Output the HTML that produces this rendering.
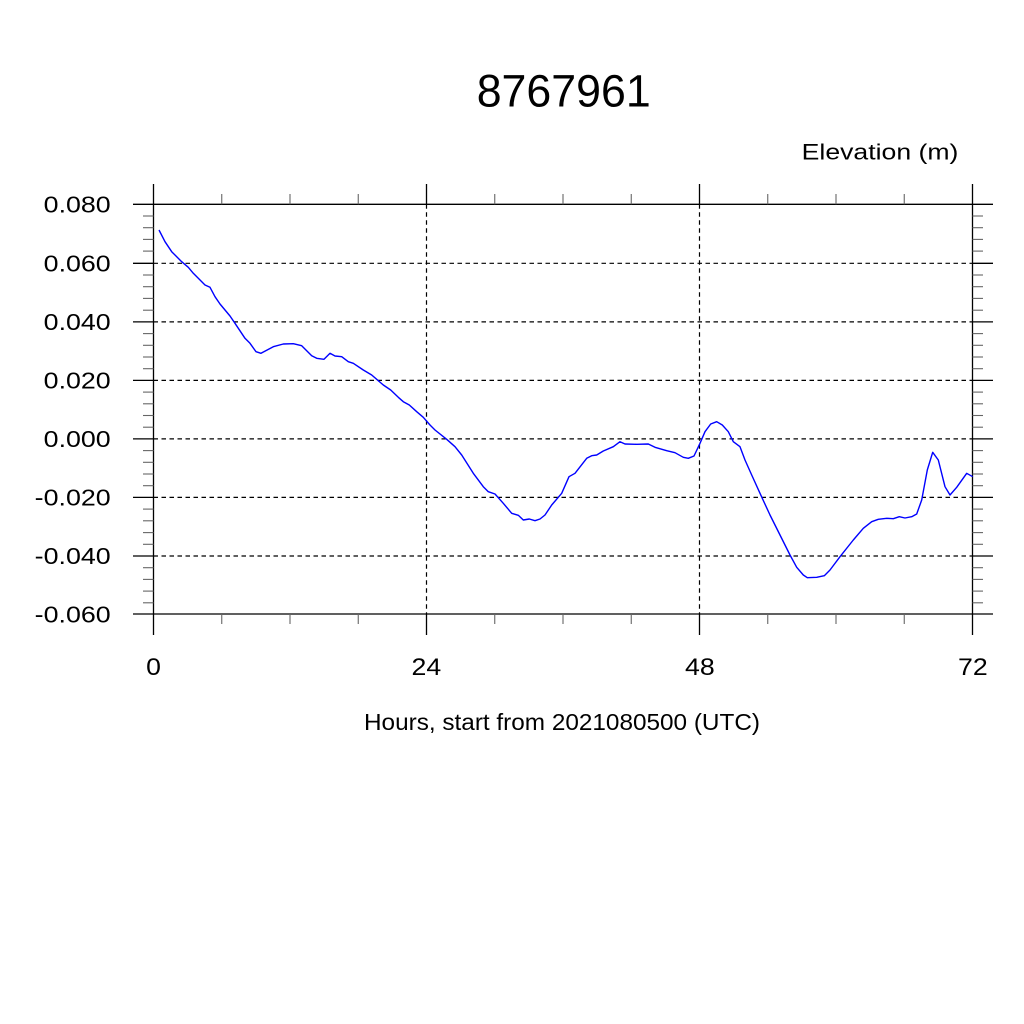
<!DOCTYPE html>
<html>
<head>
<meta charset="utf-8">
<style>
html,body{margin:0;padding:0;background:#fff;}
svg{display:block;}
text{font-family:"Liberation Sans",Arial,sans-serif;fill:#000;}
</style>
</head>
<body>
<svg width="1024" height="1024" viewBox="0 0 1024 1024" xmlns="http://www.w3.org/2000/svg">
<rect width="1024" height="1024" fill="#fff"/>

<!-- Title -->
<text x="476.7" y="106.7" font-size="45" textLength="174" lengthAdjust="spacingAndGlyphs">8767961</text>
<text x="801.7" y="159.3" font-size="22.5" textLength="156.7" lengthAdjust="spacingAndGlyphs">Elevation (m)</text>

<!-- Grid lines (dashed) -->
<g stroke="#000" stroke-width="1.2" stroke-dasharray="4.5 3.5" fill="none">
  <line x1="153.5" y1="263.3" x2="972.5" y2="263.3"/>
  <line x1="153.5" y1="321.9" x2="972.5" y2="321.9"/>
  <line x1="153.5" y1="380.4" x2="972.5" y2="380.4"/>
  <line x1="153.5" y1="438.9" x2="972.5" y2="438.9"/>
  <line x1="153.5" y1="497.4" x2="972.5" y2="497.4"/>
  <line x1="153.5" y1="556.0" x2="972.5" y2="556.0"/>
  <line x1="426.5" y1="204.3" x2="426.5" y2="614"/>
  <line x1="699.5" y1="204.3" x2="699.5" y2="614"/>
</g>

<!-- Frame / axes -->
<g stroke="#000" stroke-width="1.3" fill="none">
  <line x1="153.5" y1="184" x2="153.5" y2="635"/>
  <line x1="972.5" y1="184" x2="972.5" y2="635"/>
  <line x1="133" y1="204.3" x2="993" y2="204.3"/>
  <line x1="133" y1="614" x2="993" y2="614"/>
  <!-- major y ticks (outward both sides) -->
  <line x1="133" y1="263.3" x2="153.5" y2="263.3"/>
  <line x1="133" y1="321.9" x2="153.5" y2="321.9"/>
  <line x1="133" y1="380.4" x2="153.5" y2="380.4"/>
  <line x1="133" y1="438.9" x2="153.5" y2="438.9"/>
  <line x1="133" y1="497.4" x2="153.5" y2="497.4"/>
  <line x1="133" y1="556.0" x2="153.5" y2="556.0"/>
  <line x1="972.5" y1="263.3" x2="993" y2="263.3"/>
  <line x1="972.5" y1="321.9" x2="993" y2="321.9"/>
  <line x1="972.5" y1="380.4" x2="993" y2="380.4"/>
  <line x1="972.5" y1="438.9" x2="993" y2="438.9"/>
  <line x1="972.5" y1="497.4" x2="993" y2="497.4"/>
  <line x1="972.5" y1="556.0" x2="993" y2="556.0"/>
  <!-- major x ticks -->
  <line x1="426.5" y1="184" x2="426.5" y2="204.3"/>
  <line x1="699.5" y1="184" x2="699.5" y2="204.3"/>
  <line x1="426.5" y1="614" x2="426.5" y2="635"/>
  <line x1="699.5" y1="614" x2="699.5" y2="635"/>
</g>

<!-- Minor ticks -->
<g stroke="#666" stroke-width="1.1" fill="none">
  <!-- y minor left -->
  <line x1="143" y1="216.0" x2="153.5" y2="216.0"/>
  <line x1="143" y1="227.7" x2="153.5" y2="227.7"/>
  <line x1="143" y1="239.4" x2="153.5" y2="239.4"/>
  <line x1="143" y1="251.1" x2="153.5" y2="251.1"/>
  <line x1="143" y1="275.0" x2="153.5" y2="275.0"/>
  <line x1="143" y1="286.7" x2="153.5" y2="286.7"/>
  <line x1="143" y1="298.4" x2="153.5" y2="298.4"/>
  <line x1="143" y1="310.2" x2="153.5" y2="310.2"/>
  <line x1="143" y1="333.6" x2="153.5" y2="333.6"/>
  <line x1="143" y1="345.3" x2="153.5" y2="345.3"/>
  <line x1="143" y1="357.0" x2="153.5" y2="357.0"/>
  <line x1="143" y1="368.7" x2="153.5" y2="368.7"/>
  <line x1="143" y1="392.1" x2="153.5" y2="392.1"/>
  <line x1="143" y1="403.8" x2="153.5" y2="403.8"/>
  <line x1="143" y1="415.5" x2="153.5" y2="415.5"/>
  <line x1="143" y1="427.2" x2="153.5" y2="427.2"/>
  <line x1="143" y1="450.6" x2="153.5" y2="450.6"/>
  <line x1="143" y1="462.3" x2="153.5" y2="462.3"/>
  <line x1="143" y1="474.0" x2="153.5" y2="474.0"/>
  <line x1="143" y1="485.7" x2="153.5" y2="485.7"/>
  <line x1="143" y1="509.1" x2="153.5" y2="509.1"/>
  <line x1="143" y1="520.8" x2="153.5" y2="520.8"/>
  <line x1="143" y1="532.6" x2="153.5" y2="532.6"/>
  <line x1="143" y1="544.3" x2="153.5" y2="544.3"/>
  <line x1="143" y1="567.7" x2="153.5" y2="567.7"/>
  <line x1="143" y1="579.4" x2="153.5" y2="579.4"/>
  <line x1="143" y1="591.1" x2="153.5" y2="591.1"/>
  <line x1="143" y1="602.8" x2="153.5" y2="602.8"/>
  <!-- y minor right -->
  <line x1="972.5" y1="216.0" x2="983" y2="216.0"/>
  <line x1="972.5" y1="227.7" x2="983" y2="227.7"/>
  <line x1="972.5" y1="239.4" x2="983" y2="239.4"/>
  <line x1="972.5" y1="251.1" x2="983" y2="251.1"/>
  <line x1="972.5" y1="275.0" x2="983" y2="275.0"/>
  <line x1="972.5" y1="286.7" x2="983" y2="286.7"/>
  <line x1="972.5" y1="298.4" x2="983" y2="298.4"/>
  <line x1="972.5" y1="310.2" x2="983" y2="310.2"/>
  <line x1="972.5" y1="333.6" x2="983" y2="333.6"/>
  <line x1="972.5" y1="345.3" x2="983" y2="345.3"/>
  <line x1="972.5" y1="357.0" x2="983" y2="357.0"/>
  <line x1="972.5" y1="368.7" x2="983" y2="368.7"/>
  <line x1="972.5" y1="392.1" x2="983" y2="392.1"/>
  <line x1="972.5" y1="403.8" x2="983" y2="403.8"/>
  <line x1="972.5" y1="415.5" x2="983" y2="415.5"/>
  <line x1="972.5" y1="427.2" x2="983" y2="427.2"/>
  <line x1="972.5" y1="450.6" x2="983" y2="450.6"/>
  <line x1="972.5" y1="462.3" x2="983" y2="462.3"/>
  <line x1="972.5" y1="474.0" x2="983" y2="474.0"/>
  <line x1="972.5" y1="485.7" x2="983" y2="485.7"/>
  <line x1="972.5" y1="509.1" x2="983" y2="509.1"/>
  <line x1="972.5" y1="520.8" x2="983" y2="520.8"/>
  <line x1="972.5" y1="532.6" x2="983" y2="532.6"/>
  <line x1="972.5" y1="544.3" x2="983" y2="544.3"/>
  <line x1="972.5" y1="567.7" x2="983" y2="567.7"/>
  <line x1="972.5" y1="579.4" x2="983" y2="579.4"/>
  <line x1="972.5" y1="591.1" x2="983" y2="591.1"/>
  <line x1="972.5" y1="602.8" x2="983" y2="602.8"/>
  <!-- x minor top -->
  <line x1="221.75" y1="194" x2="221.75" y2="204.3"/>
  <line x1="290" y1="194" x2="290" y2="204.3"/>
  <line x1="358.25" y1="194" x2="358.25" y2="204.3"/>
  <line x1="494.75" y1="194" x2="494.75" y2="204.3"/>
  <line x1="563" y1="194" x2="563" y2="204.3"/>
  <line x1="631.25" y1="194" x2="631.25" y2="204.3"/>
  <line x1="767.75" y1="194" x2="767.75" y2="204.3"/>
  <line x1="836" y1="194" x2="836" y2="204.3"/>
  <line x1="904.25" y1="194" x2="904.25" y2="204.3"/>
  <!-- x minor bottom -->
  <line x1="221.75" y1="614" x2="221.75" y2="624"/>
  <line x1="290" y1="614" x2="290" y2="624"/>
  <line x1="358.25" y1="614" x2="358.25" y2="624"/>
  <line x1="494.75" y1="614" x2="494.75" y2="624"/>
  <line x1="563" y1="614" x2="563" y2="624"/>
  <line x1="631.25" y1="614" x2="631.25" y2="624"/>
  <line x1="767.75" y1="614" x2="767.75" y2="624"/>
  <line x1="836" y1="614" x2="836" y2="624"/>
  <line x1="904.25" y1="614" x2="904.25" y2="624"/>
</g>

<!-- Y tick labels -->
<g font-size="23">
  <text x="43.7" y="212.7" textLength="67" lengthAdjust="spacingAndGlyphs">0.080</text>
  <text x="43.7" y="271.3" textLength="67" lengthAdjust="spacingAndGlyphs">0.060</text>
  <text x="43.7" y="329.9" textLength="67" lengthAdjust="spacingAndGlyphs">0.040</text>
  <text x="43.7" y="388.4" textLength="67" lengthAdjust="spacingAndGlyphs">0.020</text>
  <text x="43.7" y="446.9" textLength="67" lengthAdjust="spacingAndGlyphs">0.000</text>
  <text x="34.7" y="505.4" textLength="76" lengthAdjust="spacingAndGlyphs">-0.020</text>
  <text x="34.7" y="564.0" textLength="76" lengthAdjust="spacingAndGlyphs">-0.040</text>
  <text x="34.7" y="622.5" textLength="76" lengthAdjust="spacingAndGlyphs">-0.060</text>
</g>

<!-- X tick labels -->
<g font-size="24">
  <text x="146.1" y="675" textLength="14.8" lengthAdjust="spacingAndGlyphs">0</text>
  <text x="411.5" y="675" textLength="29.7" lengthAdjust="spacingAndGlyphs">24</text>
  <text x="685" y="675" textLength="29.7" lengthAdjust="spacingAndGlyphs">48</text>
  <text x="958" y="675" textLength="29.7" lengthAdjust="spacingAndGlyphs">72</text>
</g>

<text x="364" y="730" font-size="23.3" textLength="396" lengthAdjust="spacingAndGlyphs">Hours, start from 2021080500 (UTC)</text>

<!-- Data series -->
<polyline fill="none" stroke="#0000ff" stroke-width="1.4" stroke-linejoin="round" points="
159,230 165,241.7 171.7,251.7 181.7,261.7 188.3,267.3 193.3,273.3 205,285 210,287.3 215,296.7 220,304
230,316 235,323.3 245,338.3 250,343.3 256,351.7 261,353.3 273.3,346.7 283.3,344 293.3,343.7 301.7,345.7
311.7,355.7 316.7,358.3 324,359.3 330,353.3 335,356 341.7,356.7 348.3,361.7 353.3,363.3 363.3,370 371.7,375
378.3,380.7 383.3,385 390.7,390 398.3,397.3 403.3,401.7 409.3,405 416.7,411.7 423.3,417.3 430,425 435,430
446.7,439.3 455,446.7 461.7,455 473.3,473.3 483.3,486.7 488.3,491.7 495,494 503.3,503.3 511.7,513.3 518.3,515.3
523.3,520 529.3,519 535,520.7 540,519 545,515 551.7,505 561.7,493.3 569,476.7 575,473.3 586.7,458.3
591.7,455.7 596.7,455 603.3,451 613.3,446.7 620,441.7 625,444 636.7,444.3 648.3,444 655,447.3 666.7,450.7
675,452.7 683.3,457.3 688.3,458.3 694,456 700,443.3 705,431.7 710.7,424 716.7,421.7 722.3,425 728.3,431.7
733.3,441.7 740,446.7 745,460 751.7,475 760,493.3 770,515 780,535 790,555 796.7,567.3 803.3,575
807.3,577.7 816.7,577.3 824.3,575.7 830,570 840,556.7 853.3,540 863.3,528.3 871.7,521.7 878.3,519.3 886.7,518.3
893.3,518.7 899.3,516.7 905,518 911.7,516.7 916.7,514 921.7,500 927.3,470 932.7,452.3 938.3,460 945,486.7
950,495 956.7,487.3 966.7,473.3 972.7,476.7"/>
</svg>
</body>
</html>
